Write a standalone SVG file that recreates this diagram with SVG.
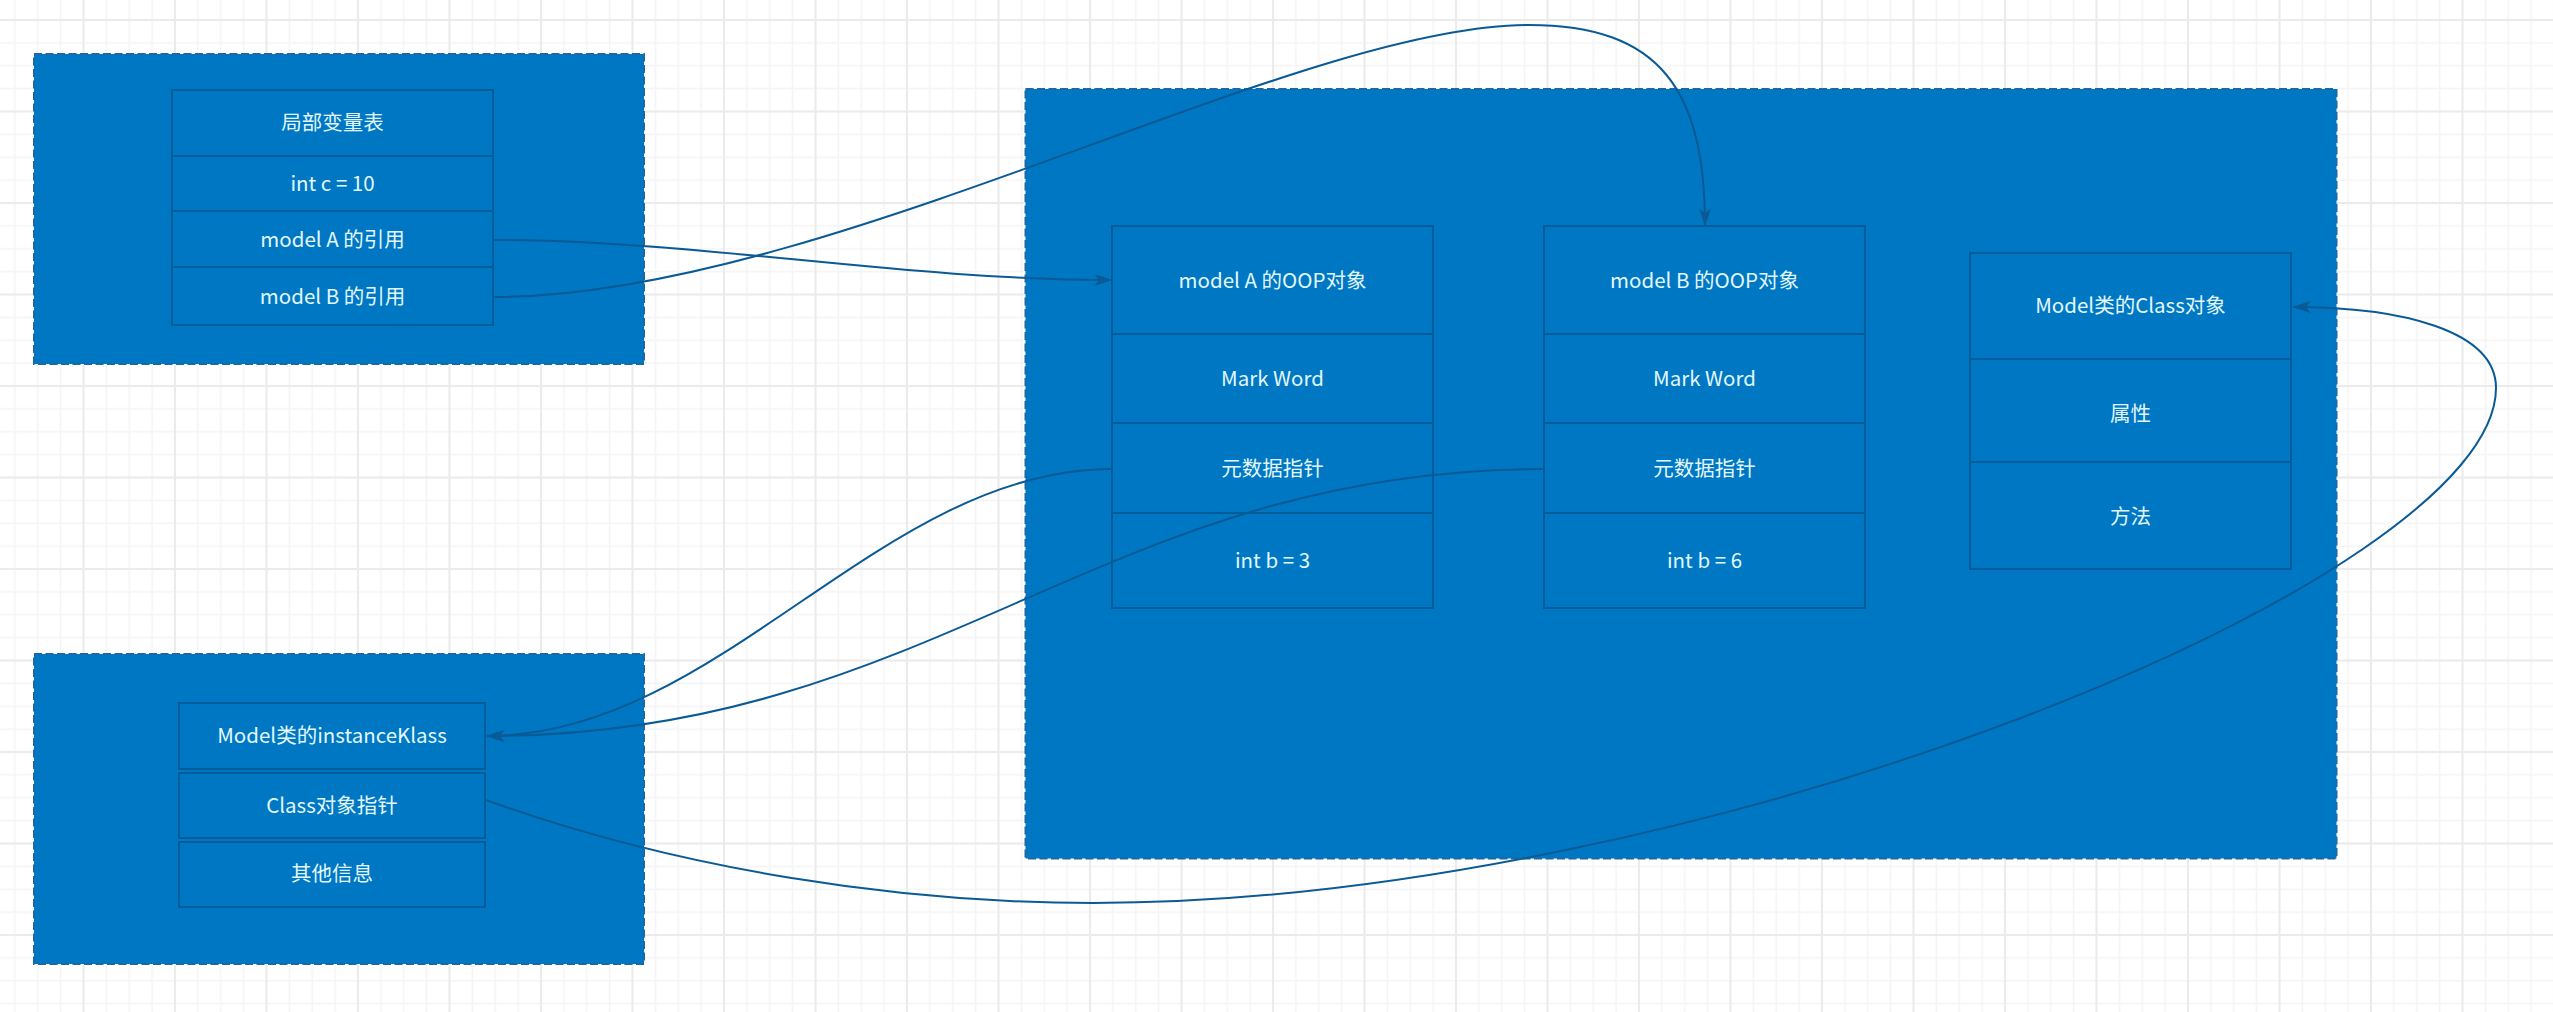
<svg xmlns="http://www.w3.org/2000/svg" width="2553" height="1012" viewBox="0 0 2553 1012">
<style>
.frame{fill:#0077c2;stroke:#1a68a6;stroke-width:2;stroke-dasharray:8 3.5}
.box{fill:#0077c2;stroke:#005d9a;stroke-width:2}
.lbl{font-family:'Noto Sans CJK SC','Noto Sans',sans-serif;font-size:20.5px;fill:#e2f8ff;text-anchor:middle}
.edge{fill:none;stroke:#0a5a96;stroke-width:2}
</style>
<defs>
<pattern id="gMinor" patternUnits="userSpaceOnUse" x="72.06" y="8.56" width="22.875" height="22.875">
<rect x="10.69" y="0" width="1.5" height="22.875" fill="#f4f4f4"/>
<rect x="0" y="10.69" width="22.875" height="1.5" fill="#f4f4f4"/>
</pattern>
<pattern id="gMajor" patternUnits="userSpaceOnUse" x="37.75" y="-25.75" width="91.5" height="91.5">
<rect x="44.75" y="0" width="2" height="91.5" fill="#ebebeb"/>
<rect x="0" y="44.75" width="91.5" height="2" fill="#ebebeb"/>
</pattern>
<marker id="arr" markerUnits="userSpaceOnUse" viewBox="0 0 18 12" refX="17.5" refY="6" markerWidth="18" markerHeight="12" orient="auto">
<path d="M0,0 L18,6 L0,12 L4.5,6 Z" fill="#0a5a96"/>
</marker>
</defs>
<rect width="2553" height="1012" fill="#ffffff"/>
<rect width="2553" height="1012" fill="url(#gMinor)"/>
<rect width="2553" height="1012" fill="url(#gMajor)"/>

<g id="frame-stack">
<rect class="frame" x="34" y="54" width="610" height="310"/>
</g>
<g id="frame-heap">
<rect class="frame" x="1025.5" y="89" width="1311" height="769.5"/>
</g>
<g id="frame-meta">
<rect class="frame" x="34" y="654" width="610" height="310"/>
</g>

<g id="local-vars">
<rect class="box" x="172" y="90" width="321" height="66"/>
<text class="lbl" x="332.5" y="130">局部变量表</text>
<rect class="box" x="172" y="156" width="321" height="55"/>
<text class="lbl" x="332.5" y="190.5">int c = 10</text>
<rect class="box" x="172" y="211" width="321" height="56"/>
<text class="lbl" x="332.5" y="246.5">model A 的引用</text>
<rect class="box" x="172" y="267" width="321" height="58"/>
<text class="lbl" x="332.5" y="303.5">model B 的引用</text>
</g>

<g id="oop-a">
<rect class="box" x="1112" y="226" width="321" height="108"/>
<text class="lbl" x="1272.5" y="288">model A 的OOP对象</text>
<rect class="box" x="1112" y="334" width="321" height="89"/>
<text class="lbl" x="1272.5" y="386">Mark Word</text>
<rect class="box" x="1112" y="423" width="321" height="90"/>
<text class="lbl" x="1272.5" y="476">元数据指针</text>
<rect class="box" x="1112" y="513" width="321" height="95"/>
<text class="lbl" x="1272.5" y="568">int b = 3</text>
</g>

<g id="oop-b">
<rect class="box" x="1544" y="226" width="321" height="108"/>
<text class="lbl" x="1704.5" y="288">model B 的OOP对象</text>
<rect class="box" x="1544" y="334" width="321" height="89"/>
<text class="lbl" x="1704.5" y="386">Mark Word</text>
<rect class="box" x="1544" y="423" width="321" height="90"/>
<text class="lbl" x="1704.5" y="476">元数据指针</text>
<rect class="box" x="1544" y="513" width="321" height="95"/>
<text class="lbl" x="1704.5" y="568">int b = 6</text>
</g>

<g id="class-object">
<rect class="box" x="1970" y="253" width="321" height="106"/>
<text class="lbl" x="2130.5" y="313">Model类的Class对象</text>
<rect class="box" x="1970" y="359" width="321" height="103"/>
<text class="lbl" x="2130.5" y="421">属性</text>
<rect class="box" x="1970" y="462" width="321" height="107"/>
<text class="lbl" x="2130.5" y="524">方法</text>
</g>

<g id="instance-klass">
<rect class="box" x="179" y="703" width="306" height="66"/>
<text class="lbl" x="332" y="743">Model类的instanceKlass</text>
</g>
<g id="class-pointer">
<rect class="box" x="179" y="773" width="306" height="65"/>
<text class="lbl" x="332" y="813">Class对象指针</text>
</g>
<g id="other-info">
<rect class="box" x="179" y="842" width="306" height="65"/>
<text class="lbl" x="332" y="881">其他信息</text>
</g>

<g id="connectors">
<path class="edge" marker-end="url(#arr)" d="M493,240 C700,240 900,280 1112,280"/>
<path class="edge" marker-end="url(#arr)" d="M493,297 C825,297 1292,25 1529,25 C1660,25 1705,90 1705,226"/>
<path class="edge" marker-end="url(#arr)" d="M1112,469 C880,469 720,736 487,736"/>
<path class="edge" marker-end="url(#arr)" d="M1544,469 C1100,469 936,736 487,736"/>
<path class="edge" marker-end="url(#arr)" d="M486,800 C680,870 900,903 1093,903 C1700,903 2496,580 2496,388 C2496,330 2400,307 2293,307"/>
</g>
</svg>
